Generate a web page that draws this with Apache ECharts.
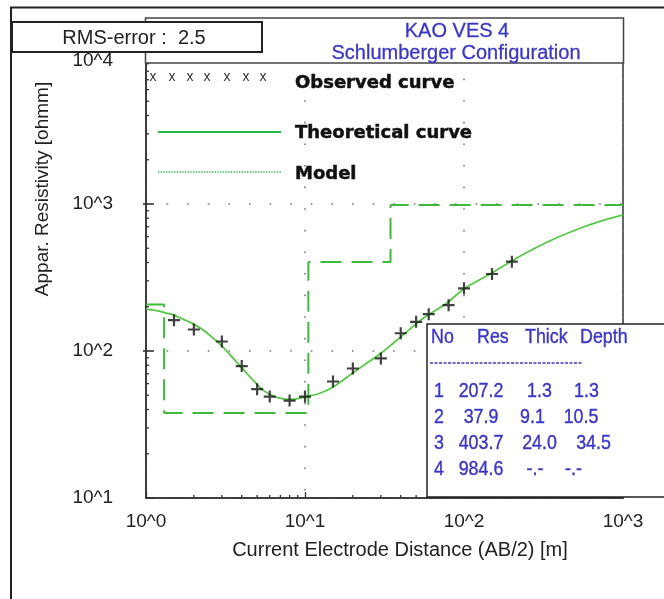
<!DOCTYPE html>
<html>
<head>
<meta charset="utf-8">
<script src="https://cdn.jsdelivr.net/npm/echarts@6/dist/echarts.min.js"></script>
<style>
html,body{margin:0;padding:0;background:#fff;}
#chart{width:664px;height:599px;}
</style>
</head>
<body>
<div id="chart"></div>
<script>
// ---- data ----
const xTickLabels = ['10^0', '10^1', '10^2', '10^3'];
const yTickLabels = ['10^0', '10^1', '10^2', '10^3', '10^4'];

const obsAB  = [1.5, 2, 3, 4, 5, 6, 8, 10, 15, 20, 30, 40, 50, 60, 80, 100, 150, 200];
const obsRho = [162, 140, 116, 79, 55, 49, 46, 49, 62, 76, 89, 132, 158, 178, 205, 267, 334, 405];

const theoAB  = [1, 1.17, 1.32, 1.49, 1.72, 1.98, 2.29, 2.65, 3.06, 3.54, 4.09, 4.73, 5.47, 6.32, 7.3, 8.44, 9.76, 12.4, 15.1, 19.2, 24.4, 29.6, 35.9, 43.6, 52.9, 64.1, 77.8, 99, 149, 200, 273, 383, 537, 717, 1000];
const theoRho = [193, 188, 182, 176, 164, 153, 139, 122, 106, 89, 75, 63, 54, 49.4, 47.2, 46.9, 48.4, 51.6, 57.2, 68.7, 82.5, 95.4, 113, 135, 161, 185, 211, 263, 338, 410, 494, 589, 684, 761, 843];

const layerNo    = [1, 2, 3, 4];
const layerRes   = [207.2, 37.9, 403.7, 984.6];
const layerThick = [1.3, 9.1, 24.0, null];
const layerDepth = [1.3, 10.5, 34.5, null];

const titleLines = ['KAO VES 4', 'Schlumberger Configuration'];
const rmsText = 'RMS-error :  2.5';
const legendNames = ['Observed curve', 'Theoretical curve', 'Model'];

// ---- derived ----
const obsData = obsAB.map((x, i) => [x, obsRho[i]]);
const theoData = theoAB.map((x, i) => [x, theoRho[i]]);
const modelData = [];
let xStart = 1;
for (let i = 0; i < layerRes.length; i++) {
  const xEnd = layerDepth[i] == null ? 1000 : layerDepth[i];
  modelData.push([xStart, layerRes[i]]);
  modelData.push([xEnd, layerRes[i]]);
  xStart = xEnd;
}
const xMinor = [], yMinor = [];
[1, 10, 100].forEach(d => { for (let k = 2; k <= 9; k++) xMinor.push([k * d, 10]); });
[10, 100, 1000].forEach(d => { for (let k = 2; k <= 9; k++) yMinor.push([1, k * d]); });
const yMajorOut = [[1, 100], [1, 1000]];

const green = '#3cba3c';
const curveGreen = '#55c845';
const blue = '#3a36c8';
const dark = '#222';
const font = 'Liberation Sans, Arial, sans-serif';

// ---- graphics ----
const G = [];
// outer frame
G.push({type:'polyline', z:100, shape:{points:[[11,599],[11,7.5],[664,7.5]]}, style:{stroke:dark, lineWidth:2, fill:null}});
// title box
G.push({type:'rect', z:100, shape:{x:145.5, y:18, width:478, height:45}, style:{fill:'#fff', stroke:'#444', lineWidth:1.5}});
G.push({type:'text', z:101, x:457, y:31, style:{text:titleLines[0], fill:blue, font:'20px ' + font, align:'center', verticalAlign:'middle', stroke:blue, lineWidth:0.3}});
G.push({type:'text', z:101, x:456, y:53, style:{text:titleLines[1], fill:blue, font:'20px ' + font, align:'center', verticalAlign:'middle', stroke:blue, lineWidth:0.3}});
// RMS box
G.push({type:'rect', z:102, shape:{x:12, y:22, width:250, height:30}, style:{fill:'#fff', stroke:dark, lineWidth:2}});
G.push({type:'text', z:103, x:134, y:38, style:{text:rmsText, fill:dark, font:'20px ' + font, align:'center', verticalAlign:'middle'}});
// legend
const crossX = [153, 172, 190, 207, 227, 246, 263];
crossX.forEach(x => G.push({type:'text', z:101, x:x, y:77, style:{text:'x', fill:'#333', font:'14px ' + font, align:'center', verticalAlign:'middle'}}));
G.push({type:'line', z:101, shape:{x1:158, y1:132, x2:281, y2:132}, style:{stroke:'#27b84c', lineWidth:2}});
G.push({type:'line', z:101, shape:{x1:158, y1:172, x2:281, y2:172}, style:{stroke:'#27b84c', lineWidth:1.5, lineDash:[1.3,1.4]}});
const legY = [83, 133, 174];
legendNames.forEach((t, i) => G.push({type:'text', z:101, x:295, y:legY[i], style:{text:t, fill:'#111', font:'bold 18px DejaVu Sans, sans-serif', align:'left', verticalAlign:'middle', stroke:'#111', lineWidth:0.5}}));
// table box
G.push({type:'rect', z:100, shape:{x:427, y:324, width:250, height:173}, style:{fill:'#fff', stroke:dark, lineWidth:1.5}});
const tFont = '21px ' + font;
const sx = 0.85;
const tStyle = (t, align) => ({text:t, fill:blue, font:tFont, align:align, verticalAlign:'middle', stroke:blue, lineWidth:0.4});
const header = [['No', 431], ['Res', 477], ['Thick', 525], ['Depth', 580]];
header.forEach(h => G.push({type:'text', z:101, x:h[1], y:337, scaleX:sx, style:tStyle(h[0], 'left')}));
G.push({type:'line', z:101, shape:{x1:430, y1:363, x2:583, y2:363}, style:{stroke:blue, lineWidth:1.5, lineDash:[3,1.5]}});
const rowY = [391, 417, 443, 469];
const thickCX = [539.5, 532.5, 539.5, 535];
const depthCX = [586.5, 581, 593.5, 573.5];
layerNo.forEach((n, i) => {
  const fmt = v => v == null ? '-.-' : v.toFixed(1);
  G.push({type:'text', z:101, x:439, y:rowY[i], scaleX:sx, style:tStyle(String(n), 'center')});
  G.push({type:'text', z:101, x:481, y:rowY[i], scaleX:sx, style:tStyle(fmt(layerRes[i]), 'center')});
  G.push({type:'text', z:101, x:thickCX[i], y:rowY[i], scaleX:sx, style:tStyle(fmt(layerThick[i]), 'center')});
  G.push({type:'text', z:101, x:depthCX[i], y:rowY[i], scaleX:sx, style:tStyle(fmt(layerDepth[i]), 'center')});
});

const chart = echarts.init(document.getElementById('chart'), null, {renderer:'canvas'});
const expLabel = (arr, topIdx) => (v) => {
  const e = Math.round(Math.log10(v));
  const s = arr[e] || '';
  return e === topIdx ? '{top|' + s + '}' : s;
};

chart.setOption({
  backgroundColor:'#fff',
  animation:false,
  grid:{left:146, right:41, top:57, bottom:101, show:true, borderColor:'#333', borderWidth:1.5, backgroundColor:'transparent'},
  xAxis:{
    type:'log', logBase:10, min:1, max:1000,
    name:'Current Electrode Distance (AB/2) [m]', nameLocation:'middle', nameGap:42,
    nameTextStyle:{color:dark, fontSize:20, fontFamily:font, padding:[0,0,0,31]},
    axisLine:{show:true, onZero:false, lineStyle:{color:'#333', width:1.6}},
    axisTick:{show:true, inside:true, length:6, lineStyle:{color:'#333', width:1.3}},
    minorTick:{show:false},
    axisLabel:{formatter:expLabel(xTickLabels, -1), color:dark, fontSize:19, fontFamily:font, margin:14},
    splitLine:{show:true, lineStyle:{color:'#777', width:1.6, type:[1.6,20]}}
  },
  yAxis:{
    type:'log', logBase:10, min:10, max:10000,
    name:'Appar. Resistivity [ohmm]', nameLocation:'middle', nameGap:94, nameRotate:90,
    nameTextStyle:{color:dark, fontSize:19, fontFamily:font, padding:[0,0,0,177]},
    axisLine:{show:true, onZero:false, lineStyle:{color:'#333', width:1.6}},
    axisTick:{show:true, inside:true, length:8, lineStyle:{color:'#333', width:1.6}},
    minorTick:{show:false},
    axisLabel:{formatter:expLabel(yTickLabels, 4), color:dark, fontSize:19, fontFamily:font, margin:33,
      rich:{top:{fontSize:19, fontFamily:font, color:dark, padding:[7,0,0,0]}}},
    splitLine:{show:true, lineStyle:{color:'#777', width:1.6, type:[1.6,19]}}
  },
  series:[
    {type:'custom', silent:true, z:3, data:xMinor, renderItem:(p, api) => {
      const c = api.coord([api.value(0), api.value(1)]);
      return {type:'line', shape:{x1:c[0], y1:c[1], x2:c[0], y2:c[1]-3}, style:{stroke:'#333', lineWidth:1.3}};
    }},
    {type:'custom', silent:true, z:3, data:yMinor, renderItem:(p, api) => {
      const c = api.coord([api.value(0), api.value(1)]);
      return {type:'line', shape:{x1:c[0], y1:c[1], x2:c[0]+3, y2:c[1]}, style:{stroke:'#333', lineWidth:1.3}};
    }},
    {type:'custom', silent:true, z:3, clip:false, data:yMajorOut, renderItem:(p, api) => {
      const c = api.coord([api.value(0), api.value(1)]);
      return {type:'line', shape:{x1:c[0]-3, y1:c[1], x2:c[0], y2:c[1]}, style:{stroke:'#333', lineWidth:1.6}};
    }},
    {name:'Model', type:'line', data:modelData, showSymbol:false, z:4,
     lineStyle:{color:green, width:2, type:[21,10]}},
    {name:'Theoretical curve', type:'line', data:theoData, showSymbol:false, smooth:0.3, z:5,
     lineStyle:{color:curveGreen, width:1.8}},
    {name:'Observed curve', type:'scatter', data:obsData, z:6,
     symbol:'path://M4.5,0H6.5V4.5H11V6.5H6.5V11H4.5V6.5H0V4.5H4.5Z', symbolSize:12,
     itemStyle:{color:'#111'}}
  ],
  graphic:G
});
</script>
</body>
</html>
